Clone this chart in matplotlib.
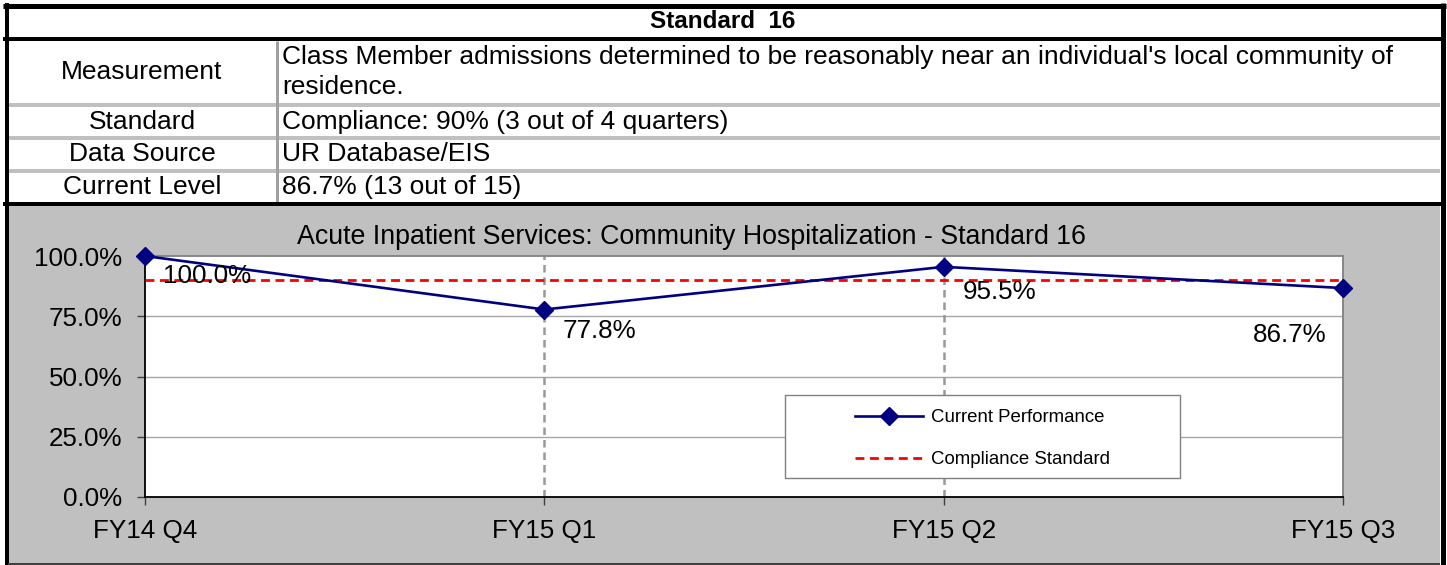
import matplotlib
matplotlib.use("Agg")
import matplotlib.pyplot as plt
from matplotlib.lines import Line2D
from matplotlib.patches import Rectangle
from matplotlib.ticker import PercentFormatter

plt.rcParams['font.family'] = ['Liberation Sans', 'DejaVu Sans']

# data
quarters = ['FY14 Q4', 'FY15 Q1', 'FY15 Q2', 'FY15 Q3']
performance = [1.000, 0.778, 0.955, 0.867]
standard = [0.90, 0.90, 0.90, 0.90]

table_title = 'Standard  16'
row_labels = ['Measurement', 'Standard', 'Data Source', 'Current Level']
row_values = ["Class Member admissions determined to be reasonably near an individual's local community of\nresidence.",
              'Compliance: 90% (3 out of 4 quarters)',
              'UR Database/EIS',
              '86.7% (13 out of 15)']
chart_title = 'Acute Inpatient Services: Community Hospitalization - Standard 16'

W, H = 1447, 565
fig = plt.figure(figsize=(W / 100, H / 100), dpi=100)
fig.patch.set_facecolor('white')


# helpers to work in pixel coordinates of the reference
def fx(x):
    return x / W


def fy(y):
    return 1 - y / H


def hline(y, x0, x1, color, px):
    fig.add_artist(Line2D([fx(x0), fx(x1)], [fy(y), fy(y)], transform=fig.transFigure,
                          color=color, lw=px * 0.72, solid_capstyle='butt'))


def vline(x, y0, y1, color, px):
    fig.add_artist(Line2D([fx(x), fx(x)], [fy(y0), fy(y1)], transform=fig.transFigure,
                          color=color, lw=px * 0.72, solid_capstyle='butt'))


# gray chart area
fig.add_artist(Rectangle((fx(8), fy(565)), fx(1440) - fx(8), fy(204) - fy(565),
                         transform=fig.transFigure, facecolor='#C0C0C0', edgecolor='none', zorder=0))

# table lines
for y in [105, 138, 170.5]:
    hline(y, 8, 1440, '#C0C0C0', 4)
vline(276.5, 41, 202, '#A0A0A0', 3)
hline(5.5, 3, 1446, 'black', 5)
hline(39, 3, 1446, 'black', 4)
hline(203.5, 3, 1446, 'black', 4)
vline(6.5, 3, 565, 'black', 4)
vline(1443, 3, 565, 'black', 5)
hline(564, 8, 1440, '#404040', 2)

# table text
fs = 19
fig.text(fx(723), fy(22), table_title, ha='center', va='center', fontsize=17.5, fontweight='bold')
label_y = [72, 122, 154, 187]
for lab, val, y in zip(row_labels, row_values, label_y):
    fig.text(fx(142), fy(y), lab, ha='center', va='center', fontsize=fs)
    fig.text(fx(282), fy(y), val, ha='left', va='center', fontsize=fs, linespacing=1.32)

# chart
ax = fig.add_axes([fx(145), fy(497), fx(1343) - fx(145), fy(256) - fy(497)])
ax.set_facecolor('white')
x = list(range(len(quarters)))
ax.plot(x, standard, color='#FF0000', lw=2.0, ls=(0, (3.2, 2.0)), label='Compliance Standard', zorder=3)
ax.plot(x, performance, color='#000080', lw=1.9, marker='D', ms=9, label='Current Performance',
        clip_on=False, zorder=4)

ax.set_xlim(0, 3)
ax.set_ylim(0, 1)
ax.set_yticks([0, 0.25, 0.5, 0.75, 1.0])
ax.yaxis.set_major_formatter(PercentFormatter(1.0, decimals=1))
ax.set_xticks(x)
ax.set_xticklabels(quarters)
ax.tick_params(axis='both', labelsize=18.7, length=5.5, width=1, color='#404040', direction='out')
ax.tick_params(axis='y', pad=11)
ax.tick_params(axis='x', pad=10)
for yv in [0.25, 0.5, 0.75]:
    ax.axhline(yv, color='#A6A6A6', lw=1, zorder=1)
for xv in [1, 2]:
    ax.axvline(xv, color='#999999', lw=1.8, ls=(0, (3, 2)), zorder=1)
ax.spines['left'].set_color('black')
ax.spines['bottom'].set_color('black')
ax.spines['top'].set_color('#808080')
ax.spines['right'].set_color('#808080')
for s in ax.spines.values():
    s.set_linewidth(1.3)

# data labels
offsets = [(18, -20, 'left'), (18, -21, 'left'), (19, -25, 'left'), (-17, -47, 'right')]
for xi, v, (dx, dy, ha) in zip(x, performance, offsets):
    ax.annotate(f'{v * 100:.1f}%', (xi, v), xytext=(dx, dy), textcoords='offset pixels',
                ha=ha, va='center', fontsize=18.7, zorder=5)

fig.text(fx(691), fy(237), chart_title, ha='center', va='center', fontsize=19.3)

# legend
fig.add_artist(Rectangle((fx(785), fy(478)), fx(1180) - fx(785), fy(395) - fy(478),
                         transform=fig.transFigure, facecolor='white', edgecolor='#808080', lw=1, zorder=6))
handles, labels = ax.get_legend_handles_labels()
leg = fig.legend(handles[::-1], labels[::-1], loc='upper left', bbox_to_anchor=(fx(855), fy(409)),
                 frameon=False, fontsize=13.4, handlelength=3.65, handletextpad=0.45,
                 labelspacing=1.35, borderpad=0, borderaxespad=0)
leg.set_zorder(7)

fig.savefig('out.png', dpi=100)
